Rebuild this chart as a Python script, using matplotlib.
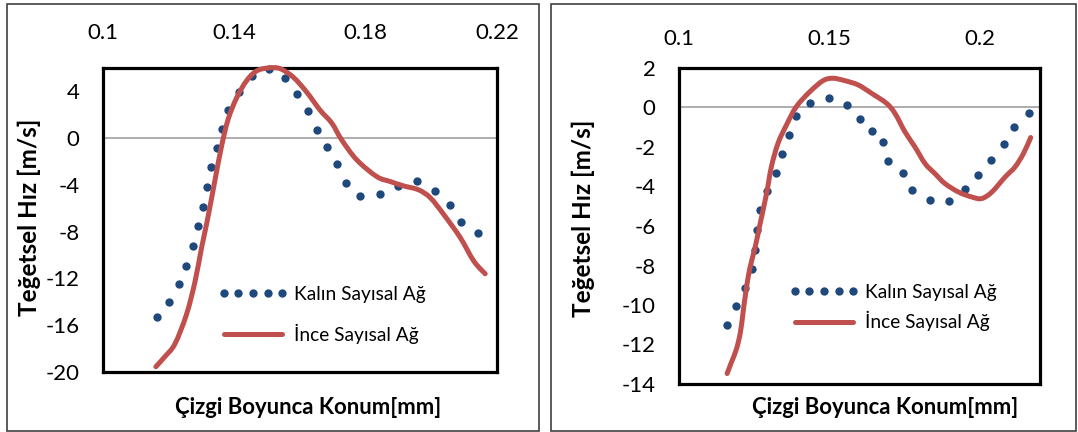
import matplotlib
matplotlib.use("Agg")
import numpy as np
import matplotlib.pyplot as plt
from matplotlib.patches import Rectangle, PathPatch
from matplotlib.path import Path
from matplotlib.lines import Line2D

plt.rcParams['font.family'] = ['Lato', 'DejaVu Sans']
plt.rcParams['axes.unicode_minus'] = False

# ---------------- data ----------------
left_coarse_x = [0.1163, 0.1201, 0.1232, 0.1254, 0.1273, 0.1288, 0.1305, 0.1317, 0.1330, 0.1346,
                 0.1361, 0.1381, 0.1415, 0.1455, 0.1505, 0.1554, 0.1590, 0.1625, 0.1651, 0.1683,
                 0.1714, 0.1740, 0.1783, 0.1844, 0.1898, 0.1956, 0.2010, 0.2056, 0.2090, 0.2141]
left_coarse_y = [-15.3, -14.0, -12.5, -10.9, -9.2, -7.5, -5.9, -4.2, -2.5, -0.86,
                 0.8, 2.45, 3.95, 5.3, 5.9, 5.18, 3.74, 2.3, 0.72, -0.78,
                 -2.22, -3.8, -4.95, -4.81, -4.12, -3.68, -4.52, -5.7, -7.14, -8.14]
left_fine_x = [0.1161, 0.1188, 0.1219, 0.1254, 0.1280, 0.1300, 0.1318, 0.1341, 0.1361, 0.1381,
               0.1407, 0.1437, 0.1468, 0.1503, 0.1539, 0.1580, 0.1620, 0.1661, 0.1697, 0.1727,
               0.1773, 0.1834, 0.1875, 0.1915, 0.1961, 0.1997, 0.2037, 0.2088, 0.2129, 0.2164]
left_fine_y = [-19.55, -18.7, -17.6, -15.1, -12.3, -9.4, -7.0, -3.6, -0.7, 1.6,
               3.45, 4.9, 5.75, 6.0, 5.95, 5.2, 3.95, 2.4, 1.28, -0.15,
               -1.86, -3.29, -3.71, -4.08, -4.42, -5.1, -6.5, -8.5, -10.5, -11.6]

right_coarse_x = [0.1161, 0.1188, 0.1219, 0.1241, 0.1252, 0.1260, 0.1268, 0.1293, 0.1324, 0.1344,
                  0.1365, 0.1388, 0.1435, 0.1497, 0.1558, 0.1601, 0.1642, 0.1679, 0.1695, 0.1745,
                  0.1776, 0.1834, 0.1898, 0.1950, 0.1995, 0.2037, 0.2080, 0.2115, 0.2163]
right_coarse_y = [-11.0, -10.05, -9.15, -8.2, -7.2, -6.2, -5.21, -4.22, -3.33, -2.36,
                  -1.4, -0.44, 0.24, 0.49, 0.12, -0.6, -1.18, -1.74, -2.72, -3.3,
                  -4.19, -4.67, -4.73, -4.11, -3.43, -2.64, -1.86, -0.98, -0.3]
right_fine_x = [0.1160, 0.1174, 0.1191, 0.1204, 0.1213, 0.1222, 0.1235, 0.1252, 0.1268, 0.1291,
                0.1307, 0.1329, 0.1357, 0.1390, 0.1435, 0.1479, 0.1512, 0.1551, 0.1596, 0.1640,
                0.1690, 0.1718, 0.1751, 0.1784, 0.1818, 0.1851, 0.1884, 0.1929, 0.1973, 0.2006,
                0.2040, 0.2084, 0.2117, 0.2145, 0.2169]
right_fine_y = [-13.47, -12.91, -12.23, -11.39, -10.37, -9.36, -8.17, -7.15, -6.0, -4.36,
                -3.01, -1.82, -0.89, 0.04, 0.8, 1.36, 1.48, 1.36, 1.14, 0.72,
                0.21, -0.3, -1.23, -1.99, -2.84, -3.35, -3.85, -4.28, -4.53, -4.61,
                -4.28, -3.52, -3.01, -2.33, -1.52]

series_names = ["Kalın Sayısal Ağ", "İnce Sayısal Ağ"]
y_title = "Teğetsel Hız [m/s]"
x_title = "Çizgi Boyunca Konum[mm]"

left_xticks = [0.1, 0.14, 0.18, 0.22]
left_xlabels = ["0.1", "0.14", "0.18", "0.22"]
left_yticks = [-20, -16, -12, -8, -4, 0, 4]
left_ylabels = ["-20", "-16", "-12", "-8", "-4", "0", "4"]
right_xticks = [0.1, 0.15, 0.2]
right_xlabels = ["0.1", "0.15", "0.2"]
right_yticks = [-14, -12, -10, -8, -6, -4, -2, 0, 2]
right_ylabels = ["-14", "-12", "-10", "-8", "-6", "-4", "-2", "0", "2"]

BLUE = "#1F497D"
RED = "#C0504D"
W, H = 1078, 432

fig = plt.figure(figsize=(W / 100, H / 100), dpi=100)
renderer = fig.canvas.get_renderer()


def fit_size(s, target_px, weight="normal"):
    t = fig.text(0, 0, s, fontsize=10, fontweight=weight)
    w = t.get_window_extent(renderer).width
    t.remove()
    return 10 * target_px / w


TICK_FS = fit_size("0.14", 44)
LEG_FS = fit_size(series_names[0], 131)
XT_FS = fit_size(x_title, 267, "bold")
YT_FS = fit_size(y_title, 197, "bold")


def px_rect(x0, y0, x1, y1):
    return [x0 / W, 1 - y1 / H, (x1 - x0) / W, (y1 - y0) / H]


def smooth_path(ax, xs, ys):
    """Excel-style smoothed line: cubic Bezier segments through the data points."""
    pts = ax.transData.transform(np.column_stack([xs, ys]))
    n = len(pts)
    verts = [pts[0]]
    codes = [Path.MOVETO]
    for i in range(n - 1):
        p0 = pts[i - 1] if i > 0 else pts[i]
        p1 = pts[i]
        p2 = pts[i + 1]
        p3 = pts[i + 2] if i + 2 < n else pts[i + 1]
        c1 = p1 + (p2 - p0) / 6.0
        c2 = p2 - (p3 - p1) / 6.0
        verts += [c1, c2, p2]
        codes += [Path.CURVE4] * 3
    verts = ax.transData.inverted().transform(np.array(verts))
    return Path(verts, codes)


def make_panel(rect, xlim, ylim, xt, xl, yt, yl, cx, cy, fx, fy, xpad, leg_xy):
    ax = fig.add_axes(px_rect(*rect))
    ax.set_xlim(*xlim)
    ax.set_ylim(*ylim)
    ax.axhline(0, color="#A0A0A0", lw=1.2, zorder=1)
    dots, = ax.plot(cx, cy, linestyle="none", marker="o", ms=6.0, mew=0, color=BLUE,
                    zorder=3, clip_on=False)
    patch = PathPatch(smooth_path(ax, fx, fy), fill=False, ec=RED, lw=3.6,
                      capstyle="round", joinstyle="round", zorder=4, clip_on=False)
    ax.add_patch(patch)
    ax.xaxis.tick_top()
    ax.set_xticks(xt)
    ax.set_xticklabels(xl)
    ax.set_yticks(yt)
    ax.set_yticklabels(yl)
    ax.tick_params(axis="x", length=0, pad=xpad, labelsize=TICK_FS)
    ax.tick_params(axis="y", length=0, pad=17, labelsize=TICK_FS)
    for s in ax.spines.values():
        s.set_linewidth(2.3)
        s.set_color("black")
    red_handle = Line2D([], [], color=RED, lw=3.6, solid_capstyle="round")
    ax.legend(handles=[dots, red_handle], labels=series_names,
              loc="center left", bbox_to_anchor=(leg_xy[0] / W, 1 - leg_xy[1] / H),
              bbox_transform=fig.transFigure, frameon=False, fontsize=LEG_FS,
              numpoints=5, handlelength=70 / (LEG_FS * 100 / 72), handletextpad=0.3,
              borderpad=0, borderaxespad=0, labelspacing=leg_xy[2])
    return ax


# chart frames
fig.add_artist(Rectangle((7 / W, 1 - 431 / H), (539 - 7) / W, (431 - 4) / H,
                         transform=fig.transFigure, fill=False, ec="#404040", lw=1.2))
fig.add_artist(Rectangle((551 / W, 1 - 431 / H), (1076 - 551) / W, (431 - 4) / H,
                         transform=fig.transFigure, fill=False, ec="#404040", lw=1.2))

make_panel((103, 68, 497, 372), (0.1, 0.22), (-20, 6), left_xticks, left_xlabels,
           left_yticks, left_ylabels, left_coarse_x, left_coarse_y, left_fine_x, left_fine_y,
           18, (218, 315, 1.1))
make_panel((679, 68, 1040, 384), (0.1, 0.22), (-14, 2), right_xticks, right_xlabels,
           right_yticks, right_ylabels, right_coarse_x, right_coarse_y, right_fine_x, right_fine_y,
           14, (789, 307.7, 0.52))

fig.text(29 / W, 1 - 217 / H, y_title, rotation=90, ha="center", va="center",
         fontsize=YT_FS, fontweight="bold")
fig.text(583 / W, 1 - 218 / H, y_title, rotation=90, ha="center", va="center",
         fontsize=YT_FS, fontweight="bold")
fig.text(308.5 / W, 1 - 407 / H, x_title, ha="center", va="center",
         fontsize=XT_FS, fontweight="bold")
fig.text(885 / W, 1 - 407 / H, x_title, ha="center", va="center",
         fontsize=XT_FS, fontweight="bold")

fig.savefig("out.png", dpi=100)
